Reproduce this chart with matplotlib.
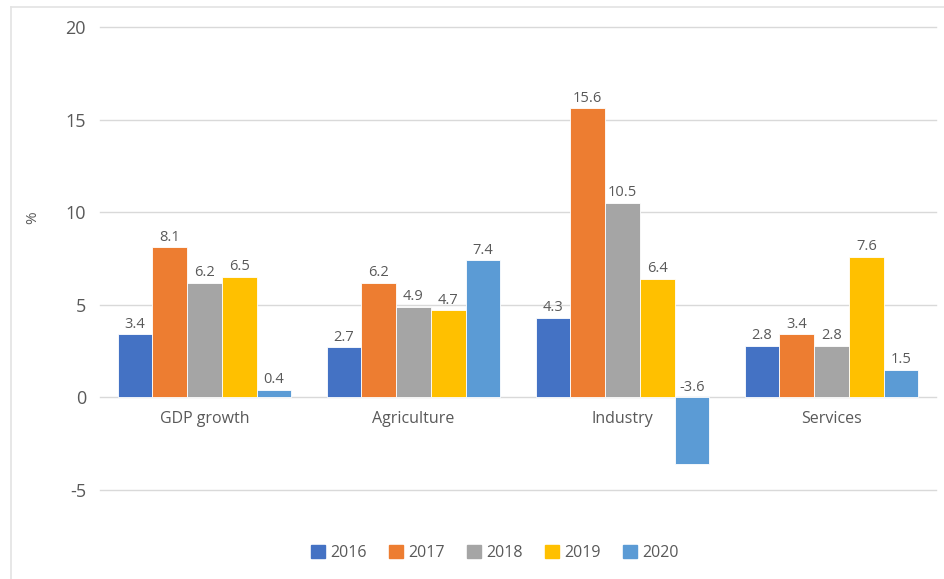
import matplotlib
matplotlib.use("Agg")
import matplotlib.pyplot as plt
from matplotlib.patches import Rectangle
from matplotlib.lines import Line2D
import numpy as np

plt.rcParams['font.family'] = ['Open Sans', 'DejaVu Sans']

categories = ["GDP growth", "Agriculture", "Industry", "Services"]
years = ["2016", "2017", "2018", "2019", "2020"]
values = {
    "2016": [3.4, 2.7, 4.3, 2.8],
    "2017": [8.1, 6.2, 15.6, 3.4],
    "2018": [6.2, 4.9, 10.5, 2.8],
    "2019": [6.5, 4.7, 6.4, 7.6],
    "2020": [0.4, 7.4, -3.6, 1.5],
}
colors = ["#4472C4", "#ED7D31", "#A5A5A5", "#FFC000", "#5B9BD5"]
yticks = [-5, 0, 5, 10, 15, 20]

text_color = "#595959"
grid_color = "#D9D9D9"

fig = plt.figure(figsize=(9.45, 5.79), dpi=100)
ax = fig.add_axes([100 / 945, 1 - 490 / 579, 836 / 945, 463 / 579])

# outer chart frame (left and top edges visible)
fig.add_artist(Line2D([11 / 945, 11 / 945], [0, 1 - 7 / 579], transform=fig.transFigure,
                      color="#E3E3E3", lw=1.2))
fig.add_artist(Line2D([11 / 945, 1], [1 - 7 / 579, 1 - 7 / 579], transform=fig.transFigure,
                      color="#E3E3E3", lw=1.2))

x = np.arange(len(categories))
bw = 0.1665
for j, (yr, col) in enumerate(zip(years, colors)):
    vals = values[yr]
    pos = x + (j - 2) * bw
    ax.bar(pos, vals, width=bw, color=col, edgecolor="white", linewidth=0.6, zorder=3)
    for px, v in zip(pos, vals):
        base = max(v, 0)
        ax.annotate(f"{v:.1f}", (px, base), xytext=(0, 2), textcoords="offset points",
                    ha="center", va="bottom", fontsize=10.5, color=text_color, zorder=4)

ax.set_xlim(-0.5, 3.5)
ax.set_ylim(-5, 20)
ax.set_yticks(yticks)
ax.set_yticklabels([str(t) for t in yticks], fontsize=13, color=text_color)
ax.tick_params(axis="y", length=0, pad=10)
ax.set_xticks([])
ax.yaxis.grid(True, color=grid_color, lw=1.0, zorder=0)
for gl in ax.get_ygridlines():
    gl.set_clip_on(False)
ax.set_axisbelow(True)
for s in ax.spines.values():
    s.set_visible(False)

for xi, c in zip(x, categories):
    ax.annotate(c, (xi, 0), xytext=(0, -10), textcoords="offset points",
                ha="center", va="top", fontsize=11.5, color=text_color)

fig.text(33 / 945, 1 - 218 / 579, "%", rotation=90, ha="center", va="center",
         fontsize=11, color=text_color)

handles = [Rectangle((0, 0), 1, 1, color=c) for c in colors]
fig.legend(handles, years, loc="center", bbox_to_anchor=(495 / 945, 1 - 553 / 579),
           ncol=5, frameon=False, fontsize=11.5, handlelength=0.85, handleheight=0.85,
           handletextpad=0.35, columnspacing=1.4, labelcolor=text_color)

fig.savefig("out.png", dpi=100)
